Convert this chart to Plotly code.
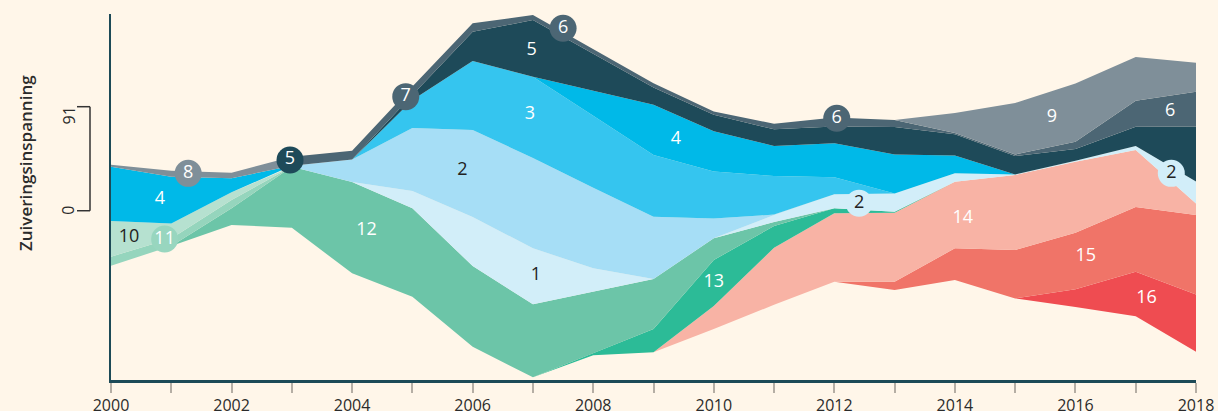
import plotly.graph_objects as go

N = None
years = list(range(2000, 2019))

# bottom offset of the stream (stream baseline), in chart units
baseline = [-48.1, -30.9, -12.5, -14.9, -54.8, -75.3, -119.0, -145.8, -126.5, -123.9,
            -103.5, -82.3, -62.1, -69.4, -60.6, -76.7, -84.3, -92.4, -123.4]

# layer thickness per year (None = layer not present)
s16 = [N] * 15 + [0, 15.5, 39.0, 50.1]
s15 = [N] * 12 + [0, 7.3, 27.7, 42.3, 49.5, 56.6, 69.6]
s14 = [N] * 9 + [0, 20.1, 49.9, 59.9, 60.4, 58.3, 65.6, 62.1, 49.9, 10.1]
s13 = [N] * 7 + [0, 1.8, 20.4, 40.3, 19.0, 4.4, 0.7, 0] + [N] * 4
s12 = [N, 0, 14.6, 53.4, 79.9, 77.4, 70.6, 63.9, 53.9, 43.8, 19.0, 3.5, 0] + [N] * 6
s11 = [7.9, 6.7, 7.3, 0] + [N] * 15
s10 = [31.2, 13.1, 6.7, 0] + [N] * 15
s1 = [N] * 4 + [0, 15.1, 42.9, 49.0, 20.5, 0, 0, 6.1, 12.1, 16.1, 7.4, 0.5, 0.9, 3.5, 19.1]
s2 = [N] * 3 + [0.9, 19.7, 55.1, 76.1, 79.0, 70.3, 54.5, 17.3, 0.4, 0] + [N] * 6
s3 = [N] * 4 + [0, 24.5, 60.4, 71.1, 63.0, 54.0, 41.0, 33.7, 14.9, 0] + [N] * 5
s4 = [47.5, 40.8, 12.3, 0, 0, 0, 0, 0, 21.9, 43.8, 35.4, 26.3, 29.9, 34.0, 15.6, 0, N, N, N]
s5 = [N] * 4 + [0, 4.4, 25.6, 49.6, 32.4, 15.3, 14.3, 14.6, 14.5, 24.1, 18.4, 16.2, 10.2, 16.9, 48.1]
s8 = [1.8, 5.3, 4.9, 7.9] + [N] * 15
s7 = [N] * 3 + [7.9, 7.7, 7.4] + [N] * 13
s6 = [N] * 5 + [7.4, 7.4, 4.4, 4.4, 3.7, 2.9, 4.9, 7.9, 6.1, 1.1, 1.3, 6.4, 22.8, 30.4]
s9 = [N] * 13 + [0, 17.5, 45.1, 51.1, 38.2, 25.4]

series = {"16": s16, "15": s15, "14": s14, "13": s13, "12": s12, "11": s11, "10": s10,
          "1": s1, "2": s2, "3": s3, "4": s4, "5": s5, "8": s8, "7": s7, "6": s6, "9": s9}

colors = {"16": "#ef4c51", "15": "#f07468", "14": "#f8b3a5", "13": "#2cbb97",
          "12": "#6cc5a8", "11": "#95d5bd", "10": "#b6e1d0", "1": "#d2eef9",
          "2": "#a6def6", "3": "#35c5ef", "4": "#00b9e8", "5": "#1e4a59",
          "8": "#7f8f99", "7": "#4c6674", "6": "#4c6674", "9": "#7f8f99"}

# stacking slots, bottom to top (8, 7, 6 follow each other in time in one slot)
slots = [["16"], ["15"], ["14"], ["13"], ["12"], ["11"], ["10"], ["1"], ["2"],
         ["3"], ["4"], ["5"], ["8", "7", "6"], ["9"]]

# labels: (text, year, value, marker colour or None, text colour)
labels = [
    ("8", 2001.28, 32.7, "#7f8f99", "white"),
    ("5", 2002.97, 44.4, "#1e4a59", "white"),
    ("7", 2004.89, 99.8, "#4c6674", "white"),
    ("6", 2007.50, 159.6, "#4c6674", "white"),
    ("6", 2012.04, 80.9, "#4c6674", "white"),
    ("2", 2012.41, 6.5, "#d2eef9", "#222222"),
    ("2", 2017.59, 32.7, "#d2eef9", "#222222"),
    ("11", 2000.89, -24.8, "#98d6bf", "white"),
    ("4", 2000.81, 9.4, None, "white"),
    ("10", 2000.30, -23.3, None, "#222222"),
    ("12", 2004.24, -16.9, None, "white"),
    ("2", 2005.83, 35.0, None, "#222222"),
    ("3", 2006.95, 84.4, None, "white"),
    ("5", 2006.98, 140.0, None, "white"),
    ("1", 2007.05, -57.1, None, "#222222"),
    ("4", 2009.37, 61.9, None, "white"),
    ("13", 2010.00, -63.0, None, "white"),
    ("14", 2014.13, -6.7, None, "white"),
    ("9", 2015.61, 81.7, None, "white"),
    ("6", 2017.57, 86.6, None, "white"),
    ("15", 2016.17, -40.3, None, "white"),
    ("16", 2017.18, -76.7, None, "white"),
]

# compute stacked boundaries
n = len(years)
lower = {}
upper = {}
cum = list(baseline)
for slot in slots:
    thick = []
    for i in range(n):
        v = 0.0
        for name in slot:
            if series[name][i] is not None:
                v = series[name][i]
                break
        thick.append(v)
    for name in slot:
        lower[name] = list(cum)
        upper[name] = [cum[i] + thick[i] for i in range(n)]
    cum = [cum[i] + thick[i] for i in range(n)]

fig = go.Figure()
for slot in slots:
    for name in slot:
        vals = series[name]
        idx = [i for i in range(n) if vals[i] is not None]
        xs = [years[i] for i in idx] + [years[i] for i in reversed(idx)]
        ys = [upper[name][i] for i in idx] + [lower[name][i] for i in reversed(idx)]
        fig.add_trace(go.Scatter(x=xs, y=ys, fill="toself", mode="lines",
                                 line=dict(width=0), fillcolor=colors[name],
                                 hoverinfo="skip", showlegend=False, name=name))

font_family = "Open Sans, Noto Sans, sans-serif"
for text, lx, ly, mcol, tcol in labels:
    if mcol:
        fig.add_trace(go.Scatter(x=[lx], y=[ly], mode="markers+text", text=[text],
                                 marker=dict(size=27, color=mcol, line=dict(width=0)),
                                 textposition="middle center",
                                 textfont=dict(family=font_family, size=18, color=tcol),
                                 hoverinfo="skip", showlegend=False, cliponaxis=False))
    else:
        fig.add_trace(go.Scatter(x=[lx], y=[ly], mode="text", text=[text],
                                 textposition="middle center",
                                 textfont=dict(family=font_family, size=18, color=tcol),
                                 hoverinfo="skip", showlegend=False, cliponaxis=False))

W, H = 1218, 411
ml, mr, mt, mb = 111, 22, 14, 31
pw = W - ml - mr

def px_to_paper(px):
    return (px - ml) / pw

tickvals = years
ticktext = [str(y) if y % 2 == 0 else "" for y in years]

fig.update_layout(
    width=W, height=H,
    margin=dict(l=ml, r=mr, t=mt, b=mb, autoexpand=False),
    paper_bgcolor="#fff6e9", plot_bgcolor="#fff6e9",
    font=dict(family=font_family, color="#2b2b2b"),
    xaxis=dict(range=[2000, 2018], showgrid=False, zeroline=False,
               showline=True, linecolor="#1d4a57", linewidth=2.5,
               tickvals=tickvals, ticktext=ticktext, ticks="outside",
               ticklen=10, tickwidth=2, tickcolor="#b5aea4",
               ticklabelstandoff=-1,
               tickfont=dict(size=16, color="#2b2b2b", family=font_family)),
    yaxis=dict(range=[-148.1, 172.1], showgrid=False, zeroline=False,
               showline=True, linecolor="#1d4a57", linewidth=2.5,
               showticklabels=False, ticks=""),
    showlegend=False,
)

# scale bracket 0 - 91
bx = px_to_paper(90)
bx0 = px_to_paper(77)
for y0, y1, xa, xb in [(0, 91, bx, bx), (0, 0, bx0, bx), (91, 91, bx0, bx)]:
    fig.add_shape(type="line", xref="paper", yref="y", x0=xa, x1=xb, y0=y0, y1=y1,
                  line=dict(color="#333333", width=1.5))

fig.add_annotation(text="0", xref="paper", yref="y", x=px_to_paper(68), y=0,
                   textangle=-90, showarrow=False, xanchor="center", yanchor="middle",
                   font=dict(size=16, color="#2b2b2b", family=font_family))
fig.add_annotation(text="91", xref="paper", yref="y", x=px_to_paper(68), y=83.3,
                   textangle=-90, showarrow=False, xanchor="center", yanchor="middle",
                   font=dict(size=16, color="#2b2b2b", family=font_family))
fig.add_annotation(text="Zuiveringsinspanning", xref="paper", yref="y",
                   x=px_to_paper(25.7), y=41.5, textangle=-90, showarrow=False,
                   xanchor="center", yanchor="middle",
                   font=dict(size=17, color="#2b2b2b", family=font_family, weight=600))

fig.write_html("out.html",
               config={"displayModeBar": False, "staticPlot": True},
               post_script="document.body.style.margin='0';"
                           "document.body.style.background='#fff6e9';")
